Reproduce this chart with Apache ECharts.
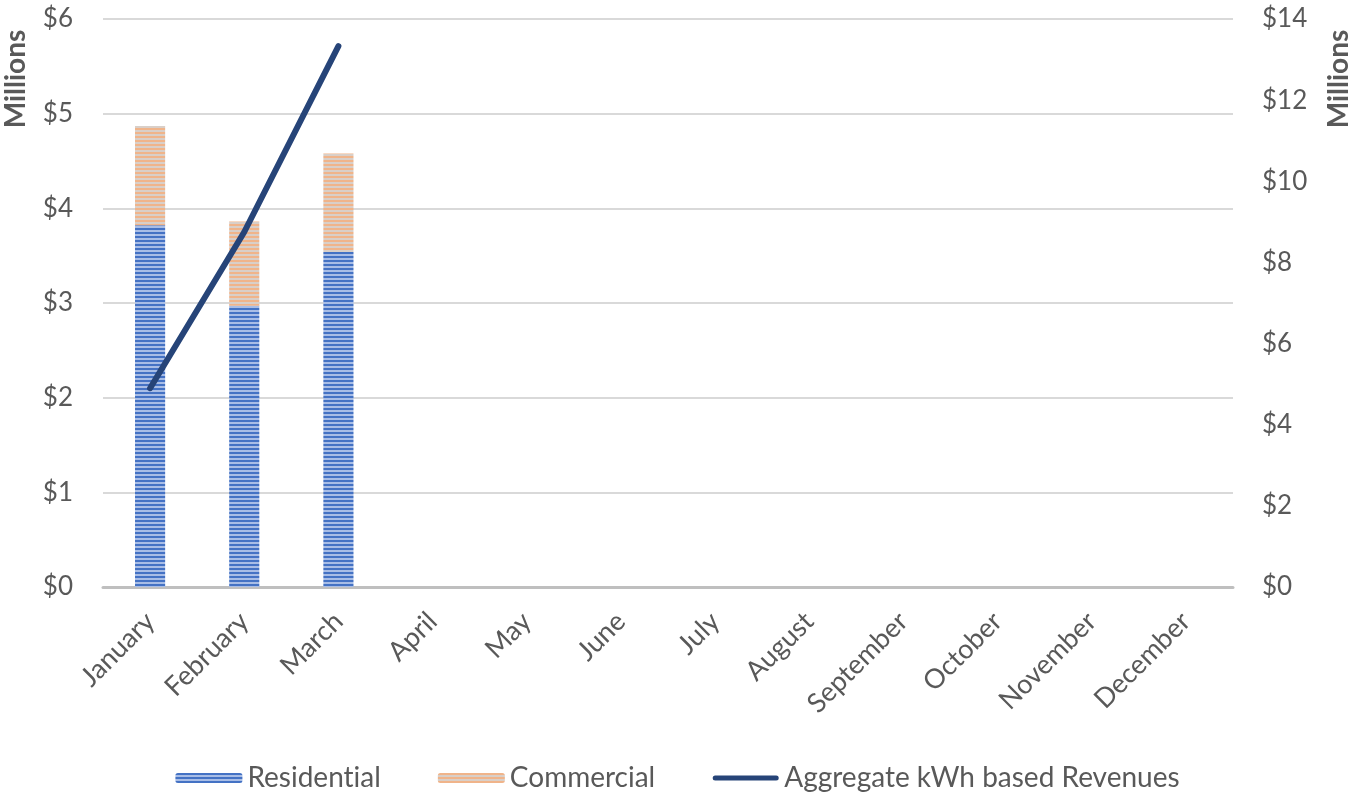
<!DOCTYPE html>
<html>
<head>
<meta charset="utf-8">
<script src="https://cdn.jsdelivr.net/npm/echarts@6/dist/echarts.min.js"></script>
<style>
html, body { margin: 0; padding: 0; background: #fff; }
#chart { width: 1355px; height: 797px; }
</style>
</head>
<body>
<div id="chart"></div>
<script>
// Monthly revenue data (millions of dollars)
const months = ['January', 'February', 'March', 'April', 'May', 'June', 'July',
  'August', 'September', 'October', 'November', 'December'];
const residential = [3.82, 2.97, 3.54, null, null, null, null, null, null, null, null, null];
const commercial = [1.05, 0.89, 1.04, null, null, null, null, null, null, null, null, null];
const aggregateKwh = [4.9, 8.75, 13.33, null, null, null, null, null, null, null, null, null];
const leftTicks = { min: 0, max: 6, step: 1 };
const rightTicks = { min: 0, max: 14, step: 2 };

// Horizontal striped fill used for the stacked bars
function stripes(dark, light) {
  const c = document.createElement('canvas');
  c.width = 8; c.height = 4;
  const g = c.getContext('2d');
  g.fillStyle = light; g.fillRect(0, 0, 8, 4);
  g.fillStyle = dark; g.fillRect(0, 0, 8, 2);
  return { image: c, repeat: 'repeat' };
}

const textColor = '#595959';
const font = 'Lato';
const lineColor = '#264478';
const chart = echarts.init(document.getElementById('chart'));

chart.setOption({
  animation: false,
  grid: { left: 103, right: 122, top: 19, bottom: 210 },
  legend: {
    bottom: 0,
    left: 'center',
    itemWidth: 67,
    itemHeight: 10,
    itemGap: 57,
    textStyle: { color: textColor, fontSize: 28, fontFamily: font },
    // a zero-width non-joiner keeps Lato from fusing "ti" into a ligature
    formatter: name => name.replace(/ti/g, 't\u200Ci'),
    data: [
      { name: 'Residential' },
      { name: 'Commercial' },
      { name: 'Aggregate kWh based Revenues',
        // thin rounded stroke centred in the swatch box
        icon: 'path://M0,0 M67,10 M3,2.5 L64,2.5 A2.5,2.5 0 0 1 64,7.5 L3,7.5 A2.5,2.5 0 0 1 3,2.5 Z',
        itemStyle: { color: lineColor } }
    ]
  },
  xAxis: {
    type: 'category',
    data: months,
    axisLine: { lineStyle: { color: '#BFBFBF', width: 3 } },
    axisTick: { show: false },
    axisLabel: { rotate: 45, color: textColor, fontSize: 27, fontFamily: font, margin: 30, interval: 0 }
  },
  yAxis: [
    {
      type: 'value', min: leftTicks.min, max: leftTicks.max, interval: leftTicks.step,
      axisLine: { show: false }, axisTick: { show: false },
      splitLine: { lineStyle: { color: '#D9D9D9', width: 2 } },
      axisLabel: { color: textColor, fontSize: 26, fontFamily: font, margin: 30,
        formatter: v => '$' + v }
    },
    {
      type: 'value', min: rightTicks.min, max: rightTicks.max, interval: rightTicks.step,
      axisLine: { show: false }, axisTick: { show: false },
      splitLine: { show: false },
      axisLabel: { color: textColor, fontSize: 26, fontFamily: font, margin: 29,
        formatter: v => '$' + v }
    }
  ],
  series: [
    {
      name: 'Residential', type: 'bar', stack: 'rev', barWidth: '32%',
      data: residential,
      itemStyle: { color: stripes('#4472C4', '#A8BDE6') }
    },
    {
      name: 'Commercial', type: 'bar', stack: 'rev', barWidth: '32%',
      data: commercial,
      itemStyle: { color: stripes('#F0B48A', '#D9CFC8') }
    },
    {
      name: 'Aggregate kWh based Revenues', type: 'line', yAxisIndex: 1,
      data: aggregateKwh, showSymbol: false, symbol: 'none',
      lineStyle: { color: lineColor, width: 6, cap: 'round', join: 'round' },
      itemStyle: { color: lineColor }
    }
  ],
  graphic: [
    { type: 'text', x: 16, y: 79, rotation: Math.PI / 2,
      style: { text: 'Millions', fill: textColor, font: 'bold 28px Lato',
        textAlign: 'center', textVerticalAlign: 'middle' } },
    { type: 'text', x: 1339, y: 79, rotation: Math.PI / 2,
      style: { text: 'Millions', fill: textColor, font: 'bold 28px Lato',
        textAlign: 'center', textVerticalAlign: 'middle' } }
  ]
});
</script>
</body>
</html>
